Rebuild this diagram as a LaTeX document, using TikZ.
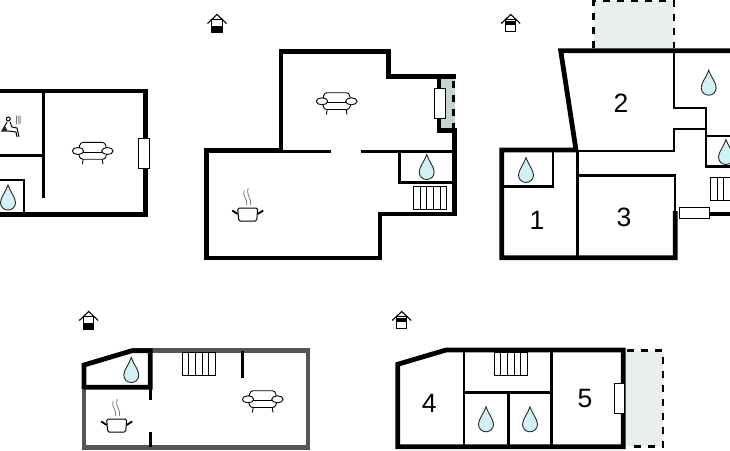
\documentclass[tikz,border=0pt]{standalone}
\usepackage{fontspec}
\setmainfont{Liberation Sans}
\usepackage{tikz}
\usetikzlibrary{positioning}
\definecolor{dropblue}{HTML}{D2F1F6}
\definecolor{paleterrace}{HTML}{EBEEEE}
\definecolor{darkterrace}{HTML}{C6D2D4}
\definecolor{greywall}{HTML}{555555}
\tikzstyle{wall}=[line width=4.8pt, line join=miter]
\tikzstyle{partition}=[line width=2.6pt, line join=miter]
\tikzstyle{dashwall}=[line width=2.4pt, dash pattern=on 7pt off 7pt]
\tikzstyle{winv}=[draw=black, fill=white, line width=0.9pt, inner sep=0, minimum width=10.5pt, minimum height=30pt]
\tikzstyle{winh}=[draw=black, fill=white, line width=0.9pt, inner sep=0, minimum width=30pt, minimum height=10.5pt]
\tikzstyle{roomno}=[inner sep=0, text=black, font=\fontsize{26.5}{26.5}\selectfont]
\tikzset{
  pics/drop/.style={code={
    \draw[fill=dropblue, draw=black!85, line width=0.9pt] (0,-12.5) .. controls (-2,-6) and (-7.5,0) .. (-7.5,5)
      .. controls (-7.5,9.5) and (-4,12.5) .. (0,12.5) .. controls (4,12.5) and (7.5,9.5) .. (7.5,5)
      .. controls (7.5,0) and (2,-6) .. (0,-12.5) -- cycle;
  }},
  pics/sofa/.style={code={
    \draw[line width=0.9pt, rounded corners=3pt] (-14,-2) -- (-12.5,-10.3) -- (12.5,-10.3) -- (14,-2);
    \draw[line width=0.9pt] (-12,-0.5) -- (12,-0.5);
    \draw[line width=0.9pt, rounded corners=2.5pt] (-14,1) -- (-12.5,6.5) -- (12.5,6.5) -- (14,1);
    \draw[line width=0.9pt, fill=white] (-14.7,-1.7) ellipse (5.7pt and 3.5pt);
    \draw[line width=0.9pt, fill=white] (14.7,-1.7) ellipse (5.7pt and 3.5pt);
    \draw[line width=0.9pt] (-9.5,6.5) -- (-10.3,11.5) (9.5,6.5) -- (10.3,11.5);
  }},
  pics/pot/.style={code={
    \draw[line width=1pt, rounded corners=1.5pt] (-10,-7) -- (10,-7) -- (9,6) -- (-9,6) -- cycle;
    \draw[line width=1.8pt] (-10,-1) -- (-15.5,-4.5) (10,-1) -- (15.5,-4.5);
    \draw[black!50, line width=0.8pt] (-3.5,-25) .. controls (-6,-19) and (0,-17) .. (-1,-10);
    \draw[black!50, line width=0.8pt] (0.5,-27) .. controls (-2,-20) and (4,-17) .. (3,-10);
  }},
  pics/stairs/.style={code={
    \draw[line width=0.8pt] (0,0) rectangle (33.5,23);
    \foreach \tread in {1,...,4}
      \draw[line width=0.8pt] (6.7*\tread,0) -- (6.7*\tread,23);
  }},
  pics/houselow/.style={code={
    \draw[line width=1.1pt, line join=miter] (-9.5,0.5) -- (0,-8.5) -- (9.5,0.5);
    \draw[line width=0.9pt, fill=white] (-5.2,-3.5) rectangle (5.2,9);
    \fill[black] (-5.2,3) rectangle (5.2,9);
  }},
  pics/househigh/.style={code={
    \draw[line width=1.1pt, line join=miter] (-9.5,0.5) -- (0,-8.5) -- (9.5,0.5);
    \draw[line width=0.9pt, fill=white] (-5.2,-3.5) rectangle (5.2,8.5);
    \fill[black] (-5.2,-2.5) rectangle (5.2,2);
  }},
  pics/sauna/.style={code={
    \draw[line width=1pt, fill=white] (-2.7,-7) circle (2pt);
    \draw[line width=1pt, line join=round] (-4,-4) -- (-9,5);
    \draw[line width=1pt, line join=round] (-1,-4) -- (1,1) -- (6,2) -- (8,11);
    \draw[line width=1pt, line join=round] (-3,5) -- (5,6) -- (6,11);
    \fill[black!85] (-10,5.5) -- (-6,0) -- (-3,5.5) -- cycle;
    \foreach \waft in {5.5,7.3,9.1}
      \draw[black!55, line width=0.8pt] (\waft,-10.5) .. controls (\waft-1.5,-7) and (\waft+1.5,-5) .. (\waft,-2);
  }}
}

\begin{document}
\begin{tikzpicture}[x=1pt,y=-1pt]
  \path[use as bounding box] (0,0) rectangle (730,450);

  \pic at (217,23) {houselow};
  \pic at (510.7,23) {househigh};
  \pic at (88.7,320) {houselow};
  \pic at (401.7,320) {househigh};

  \draw[wall] (-5,91) -- (145.6,91) -- (145.6,214.8) -- (-5,214.8);
  \draw[partition] (43.7,91) -- (43.7,197.5);
  \draw[partition] (-5,155.7) -- (43.7,155.7);
  \draw[partition] (-5,180) -- (24,180) -- (24,214);
  \node[winv] (winA) at (143.8,153) {};
  \pic at (92.7,152.7) {sofa};
  \pic at (8,197.5) {drop};
  \pic at (11,126) {sauna};

  \fill[darkterrace] (439,78) rectangle (455,129);
  \draw[wall] (281,151) -- (281,51.3) -- (388.3,51.3) -- (388.3,76.8) -- (456,76.8);
  \draw[wall] (439,76.8) -- (439,130.5) -- (454.5,130.5) -- (454.5,214) -- (380,214) -- (380,258) -- (206.8,258) -- (206.8,150.8) -- (283,150.8);
  \draw[dashwall] (453.6,81) -- (453.6,128);
  \draw[partition] (281,151.7) -- (330.7,151.7);
  \draw[partition] (360.7,151.7) -- (454,151.7);
  \draw[partition] (399.3,151.7) -- (399.3,182.3) -- (454,182.3);
  \node[winv] (winB) at (439.7,103) {};
  \pic at (336.7,103) {sofa};
  \pic at (426.7,167) {drop};
  \pic at (413.2,186.3) {stairs};
  \pic at (247.7,215) {pot};

  \fill[paleterrace] (593.5,1) rectangle (674,50);
  \draw[dashwall] (593.5,48) -- (593.5,1) -- (674,1) -- (674,48);
  \draw[wall] (735,50.7) -- (560.7,50.7) -- (576,150) -- (501.7,150) -- (501.7,257.7) -- (675.3,257.7) -- (675.3,211);
  \draw[wall] (709,214) -- (735,214);
  \draw[partition] (674,50.7) -- (674,108) -- (706,108) -- (706,166.7) -- (735,166.7);
  \draw[partition] (706,136) -- (735,136);
  \draw[partition] (706,129) -- (674,129) -- (674,151) -- (576,151);
  \draw[partition] (577.3,150) -- (577.3,257.7);
  \draw[partition] (577.3,175.7) -- (675,175.7) -- (675,212);
  \draw[partition] (501.7,186.7) -- (553,186.7) -- (553,150);
  \node[winh] (winC) at (694,213) {};
  \pic at (526,170) {drop};
  \pic at (708.7,82.7) {drop};
  \pic at (726,152) {drop};
  \pic at (710.4,177.5) {stairs};
  \node[roomno] (rmone) at (537,220.5) {1};
  \node[roomno] (rmtwo) at (621,103) {2};
  \node[roomno] (rmthree) at (624,217) {3};

  \draw[wall, greywall] (132,350.7) -- (308,350.7) -- (308,447.3) -- (84,447.3) -- (84,387);
  \draw[wall] (84,389) -- (84,365) -- (132,350.7) -- (150.3,350.7) -- (150.3,387.3) -- (84,387.3);
  \draw[partition] (150.3,387) -- (150.3,400);
  \draw[partition] (150.3,431.7) -- (150.3,447);
  \draw[partition] (242.7,350.7) -- (242.7,378);
  \pic at (182,352.5) {stairs};
  \pic at (131.3,370) {drop};
  \pic at (116.7,426) {pot};
  \pic at (262.7,401) {sofa};

  \fill[paleterrace] (623,351) rectangle (663,446);
  \draw[dashwall] (627,350.5) -- (663,350.5) -- (663,446.5) -- (627,446.5);
  \draw[wall] (397.7,446.7) -- (397.7,364.3) -- (446,350) -- (623.3,350) -- (623.3,446.7) -- cycle;
  \draw[partition] (464,350) -- (464,446.7);
  \draw[partition] (551.7,350) -- (551.7,446.7);
  \draw[partition] (464,392.3) -- (551.7,392.3);
  \draw[partition] (508.3,392.3) -- (508.3,446.7);
  \node[winv] (winE) at (619.6,398.5) {};
  \pic at (494,352.3) {stairs};
  \pic at (486,419.3) {drop};
  \pic at (530,419.3) {drop};
  \node[roomno] (rmfour) at (429.3,403) {4};
  \node[roomno] (rmfive) at (585,399) {5};
\end{tikzpicture}
\end{document}
